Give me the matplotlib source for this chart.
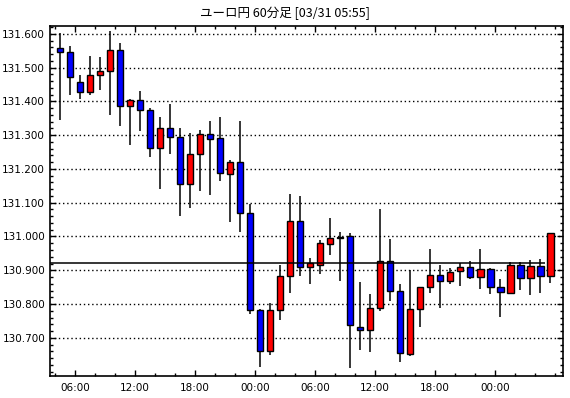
import matplotlib
matplotlib.use("Agg")
import matplotlib.pyplot as plt
from matplotlib.ticker import MultipleLocator, FixedLocator
import numpy as np

# 1時間足 03/29 04:00 - 03/31 05:00
start_hour = 4
opens = [131.557, 131.545, 131.456, 131.427, 131.477, 131.489, 131.551, 131.385, 131.403, 131.373,
         131.261, 131.321, 131.293, 131.154, 131.243, 131.302, 131.290, 131.185, 131.220, 131.069,
         130.782, 130.660, 130.782, 130.883, 131.045, 130.909, 130.915, 130.977, 130.998, 131.000,
         130.731, 130.722, 130.788, 130.927, 130.838, 130.651, 130.785, 130.849, 130.885, 130.867,
         130.897, 130.909, 130.879, 130.903, 130.850, 130.832, 130.915, 130.876, 130.912, 130.882]
highs = [131.602, 131.563, 131.478, 131.534, 131.530, 131.608, 131.572, 131.407, 131.431, 131.380,
         131.354, 131.392, 131.321, 131.306, 131.315, 131.342, 131.354, 131.226, 131.342, 131.095,
         130.785, 130.803, 130.916, 131.125, 131.119, 130.936, 130.989, 131.055, 131.012, 131.009,
         130.865, 130.830, 131.081, 130.992, 130.859, 130.901, 130.850, 130.963, 130.916, 130.906,
         130.921, 130.928, 130.962, 130.908, 130.873, 130.925, 130.925, 130.930, 130.933, 131.009]
lows = [131.346, 131.420, 131.408, 131.420, 131.434, 131.360, 131.328, 131.272, 131.313, 131.236,
        131.141, 131.245, 131.062, 131.083, 131.135, 131.123, 131.164, 131.044, 131.014, 130.772,
        130.615, 130.650, 130.754, 130.832, 130.884, 130.860, 130.890, 130.946, 130.869, 130.610,
        130.665, 130.657, 130.779, 130.808, 130.627, 130.647, 130.733, 130.834, 130.789, 130.860,
        130.852, 130.875, 130.844, 130.829, 130.761, 130.829, 130.841, 130.826, 130.834, 130.863]
closes = [131.545, 131.471, 131.427, 131.477, 131.489, 131.551, 131.385, 131.405, 131.373, 131.261,
          131.321, 131.293, 131.154, 131.243, 131.302, 131.290, 131.187, 131.220, 131.069, 130.782,
          130.660, 130.782, 130.883, 131.045, 130.909, 130.921, 130.980, 130.995, 130.995, 130.737,
          130.722, 130.788, 130.927, 130.838, 130.654, 130.785, 130.850, 130.885, 130.867, 130.894,
          130.909, 130.879, 130.903, 130.850, 130.835, 130.915, 130.876, 130.912, 130.882, 131.009]
ref_price = 130.921
title = "ユーロ円 60分足 [03/31 05:55]"

fig = plt.figure(figsize=(5.7, 3.98), dpi=100)
ax = fig.add_axes([50 / 570, 22 / 398, 513.3 / 570, 350 / 398])

x = start_hour + 0.5 + np.arange(len(opens))
w = 0.65
for xi, o, h, l, c in zip(x, opens, highs, lows, closes):
    ax.vlines(xi, l, h, color="black", linewidth=1.1, zorder=2)
    col = "#FF0000" if c > o else "#0000FF"
    bottom = min(o, c)
    height = max(abs(c - o), 0.0015)
    ax.bar(xi, height, w, bottom=bottom, color=col, edgecolor="black",
           linewidth=1.0, zorder=3)

# 基準線
ax.hlines(ref_price, 3.5, x[-1] - 0.5, color="black", linewidth=1.1, zorder=4)

ax.set_xlim(3.5, 54.8)
ax.set_ylim(130.587, 131.623)

ax.yaxis.set_major_locator(FixedLocator(np.round(np.arange(130.7, 131.61, 0.1), 3)))
ax.yaxis.set_minor_locator(MultipleLocator(0.02))
ax.set_yticklabels([f"{v:.3f}" for v in np.arange(130.7, 131.61, 0.1)])
ax.grid(axis="y", which="major", color="black", linestyle=(0, (1, 2)), linewidth=1.0, zorder=1)

xt = np.arange(6, 54, 6)
ax.xaxis.set_major_locator(FixedLocator(xt))
ax.xaxis.set_minor_locator(MultipleLocator(2))
ax.set_xticklabels([f"{h % 24:02d}:00" for h in xt])

ax.tick_params(which="both", direction="in", top=True, right=True, labelsize=7.5,
               colors="black", width=1)
ax.tick_params(which="major", length=4)
ax.tick_params(which="minor", length=2.5)
ax.tick_params(axis="x", pad=5)
for s in ax.spines.values():
    s.set_linewidth(1.2)

fig.text(0.5, 1 - 13 / 398, title, ha="center", va="center", fontsize=9,
         family=["Noto Sans CJK JP", "DejaVu Sans"])

fig.savefig("out.png", dpi=100)
